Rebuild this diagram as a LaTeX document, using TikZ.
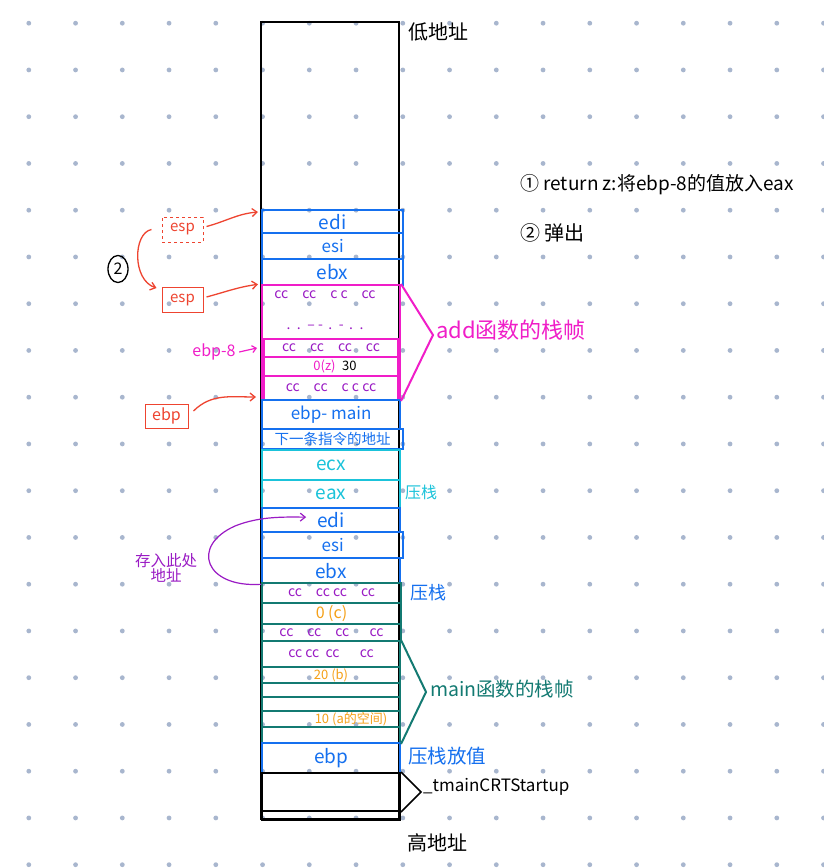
\documentclass[tikz,border=0pt]{standalone}
\usepackage{fontspec}
\setmainfont{Noto Sans CJK SC}
\usetikzlibrary{arrows.meta,calc,shapes.geometric}
\definecolor{cblue}{HTML}{1570EF}
\definecolor{cmag}{HTML}{F01DC8}
\definecolor{cpurple}{HTML}{9A1BC4}
\definecolor{ccyan}{HTML}{1BC3DA}
\definecolor{cteal}{HTML}{137A72}
\definecolor{corange}{HTML}{F5A017}
\definecolor{cred}{HTML}{EE4430}
\definecolor{cdot}{HTML}{A8B6CE}
\newcommand\fsz[1]{\fontsize{#1}{#1}\selectfont}
\begin{document}
\begin{tikzpicture}[x=1pt,y=-1pt,
  cell/.style={draw, rectangle, inner sep=0pt, anchor=north west},
  bluecell/.style={cell, draw=cblue, line width=2.3pt, text=cblue, font=\fsz{19}},
  cyancell/.style={cell, draw=ccyan, line width=2pt, text=ccyan, font=\fsz{19}},
  magcell/.style={cell, draw=cmag, line width=2pt, text=cpurple, font=\fsz{14}},
  tealcell/.style={cell, draw=cteal, line width=2pt, text=cpurple, font=\fsz{14}},
  blackcell/.style={cell, draw=black, line width=2pt},
  orangetxt/.style={text=corange},
  redbox/.style={draw=cred, line width=1pt, text=cred, font=\fsz{15}, minimum width=41pt, inner sep=0pt},
  redarrow/.style={draw=cred, line width=1.3pt, -{Straight Barb[length=5pt,width=8pt]}},
  lbl/.style={anchor=west, inner sep=0pt}
]
\useasboundingbox (0,0) rectangle (824,868);
\fill[white] (0,0) rectangle (824,868);
% dot grid
\foreach \i in {0,...,17} \foreach \j in {0,...,18}
  \fill[cdot] ({28.8+46.75*\i},{23.2+46.75*\j}) circle (2.4);

% stack outline
\draw[line width=2pt] (261,22) rectangle (399,819);

% top part
\node[bluecell, minimum width=141pt, minimum height=23pt] (edi) at (261,209) {edi};
\node[bluecell, minimum width=141pt, minimum height=26pt, font=\fsz{17}] (esi) at (261,232) {esi};
\node[bluecell, minimum width=141pt, minimum height=26pt] (ebx) at (261,258) {ebx};
% add frame
\node[magcell, minimum width=138pt, minimum height=115pt] (addframe) at (261,284) {};
\node[text=cpurple, font=\fsz{14}] (addr1) at (325,295) {cc\quad cc\quad c c\quad cc};
\node[text=cpurple, font=\fsz{14}] (addr2) at (325,327) {.\, .\, -- -\, .\, -\, .\, .};
\node[magcell, minimum width=134pt, minimum height=18pt] (m1) at (263,338) {cc\quad cc\quad cc\quad cc};
\node[magcell, minimum width=134pt, minimum height=19pt, font=\fsz{13}] (m2) at (263,356) {\hspace{8pt}{\color{cmag}0(z)}\enspace{\color{black}30}};
\node[magcell, minimum width=134pt, minimum height=24pt] (m3) at (263,375) {cc\quad cc\quad c c cc};
% below
\node[bluecell, minimum width=138pt, minimum height=29pt, font=\fsz{17}] (ebpmain) at (261,399) {ebp- main};
\node[bluecell, minimum width=141pt, minimum height=20pt, font=\fsz{14.5}] (nextaddr) at (261,428) {下一条指令的地址};
\node[cyancell, minimum width=138pt, minimum height=30pt] (ecx) at (261,449) {ecx};
\node[cyancell, minimum width=138pt, minimum height=28pt] (eax) at (261,479) {eax};
\node[bluecell, minimum width=138pt, minimum height=24pt] (edi2) at (261,507) {edi};
\node[bluecell, minimum width=141pt, minimum height=26pt, font=\fsz{17}] (esi2) at (261,531) {esi};
\node[bluecell, minimum width=138pt, minimum height=25pt] (ebx2) at (261,557) {ebx};
% main frame rows
\node[tealcell, minimum width=139pt, minimum height=20pt] (c1) at (261,582) {cc\quad cc cc\quad cc};
\node[tealcell, minimum width=139pt, minimum height=21pt, font=\fsz{16}, orangetxt] (c2) at (261,602) {0 (c)};
\node[tealcell, minimum width=139pt, minimum height=17pt] (c3) at (261,623) {cc\quad cc\quad cc\quad\ \ cc};
\node[tealcell, minimum width=138pt, minimum height=26pt] (c4) at (261,640) {cc\ cc\ \ cc\quad\ \ cc};
\node[tealcell, minimum width=138pt, minimum height=16pt, font=\fsz{13}, orangetxt] (c5) at (261,666) {20 (b)};
\node[tealcell, minimum width=138pt, minimum height=14pt] (c6) at (261,682) {};
\node[tealcell, minimum width=138pt, minimum height=14pt] (c7) at (261,696) {};
\node[tealcell, minimum width=138pt, minimum height=16pt, font=\fsz{13}, orangetxt] (c8) at (261,710) {\hspace{40pt}10 (a的空间)};
\node[tealcell, minimum width=138pt, minimum height=16pt] (c9) at (261,726) {};
\node[bluecell, minimum width=138pt, minimum height=30pt] (ebpm) at (261,742) {ebp};
\node[blackcell, minimum width=138pt, minimum height=38pt] (b1) at (261,772) {};
\node[blackcell, minimum width=138pt, minimum height=9pt] (b2) at (261,810) {};

% brackets
\coordinate (addtip) at (433,335);
\draw[cmag, line width=2pt] (addframe.north east) -- (addtip) -- (addframe.south east);
\node[lbl, text=cmag, font=\fsz{22}] (addlbl) at (436,330) {add函数的栈帧};
\coordinate (maintip) at (426,692);
\draw[cteal, line width=2pt] (c4.north east) -- (maintip) -- (c9.south east);
\node[lbl, text=cteal, font=\fsz{19.5}] (mainlbl) at (430,689) {main函数的栈帧};
\coordinate (crttip) at (421,792);
\draw[black, line width=1.6pt] (b1.north east) -- (crttip) -- (b1.south east);
\node[lbl, font=\fsz{17}] (crtlbl) at (423,787) {\_tmainCRTStartup};

% right labels
\node[lbl, font=\fsz{20}] (low) at (408,32) {低地址};
\node[lbl, font=\fsz{20}] (high) at (407,843) {高地址};
\node[lbl, text=ccyan, font=\fsz{16}] (push1) at (405,492) {压栈};
\node[lbl, text=cblue, font=\fsz{18}] (push2) at (410,593) {压栈};
\node[lbl, text=cblue, font=\fsz{19.5}] (push3) at (408,756) {压栈放值};

% notes
\node[lbl, font=\fsz{19}] (note1) at (520,185) {① return z:将ebp-8的值放入eax};
\node[lbl, font=\fsz{20}] (note2) at (520,233) {② 弹出};

% left side
\node[redbox, dashed, minimum height=25pt] (esp1) at (182.5,229.5) {esp};
\node[redbox, minimum height=25pt] (esp2) at (182.5,300) {esp};
\node[redbox, minimum width=43pt, minimum height=24pt, font=\fsz{16}] (ebpbox) at (166.5,416) {ebp};
\node[draw=black, ellipse, line width=1.3pt, minimum width=20pt, minimum height=27pt, inner sep=0pt, font=\fsz{16}] (two) at (118,269) {2};
\node[text=cmag, font=\fsz{16}] (ebp8) at (214,352) {ebp-8};
\node[text=cpurple, font=\fsz{15.5}, align=center, inner sep=0pt] (store) at (166,568) {存入此处\\地址};

\draw[redarrow] ($(esp1.east)+(3,-3)$) to[out=15,in=185] ($(edi.north west)+(-3,3)$);
\draw[redarrow] ($(esp2.east)+(3,-3)$) to[out=15,in=188] ($(ebx.south west)+(-3,-2)$);
\draw[redarrow] ($(ebpbox.east)+(5,-5)$) to[out=45,in=180] ($(ebpmain.north west)+(-5,-2)$);
\draw[redarrow] ($(esp1.west)+(-10,0)$) .. controls (133,233) and (132,280) .. ($(esp2.west)+(-5,-12)$);
\draw[cmag, line width=1.2pt, -{Straight Barb[length=4pt,width=7pt]}] (ebp8.east) -- ($(m1.west)+(-6,0)$);
\coordinate (editxt) at ($(edi2.center)+(-25,-3)$);
\draw[cpurple, line width=1.2pt, -{Straight Barb[length=5pt,width=8pt]}] (ebx2.south west) .. controls (205,588) and (190,546) .. (235,526) .. controls (260,516) and (285,517) .. (editxt);
\end{tikzpicture}
\end{document}
